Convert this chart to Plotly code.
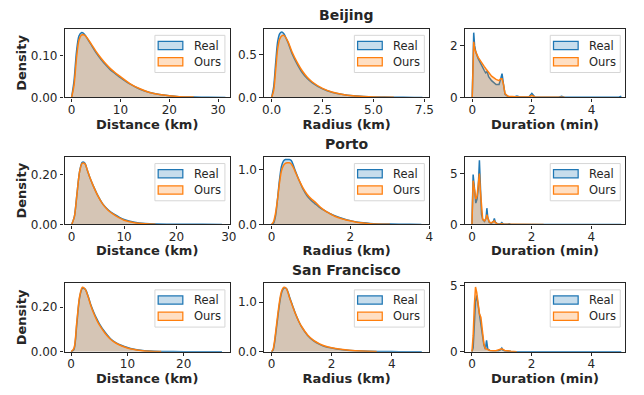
import plotly.graph_objects as go

# ---------------- data ----------------
cities = ["Beijing", "Porto", "San Francisco"]
x_titles = ["Distance (km)", "Radius (km)", "Duration (min)"]
series_names = ["Real", "Ours"]

# Beijing
bj_dist_x = [0, 0.5, 1, 1.5, 2, 2.5, 3, 4, 5, 6, 7, 8, 9, 10, 12, 14, 16, 18, 20, 22, 25, 28, 31.5]
bj_dist_real = [0, 0.04, 0.11, 0.148, 0.156, 0.154, 0.146, 0.127, 0.108, 0.092, 0.078, 0.066, 0.057, 0.048, 0.032, 0.020, 0.012, 0.007, 0.004, 0.002, 0.001, 0.0005, 0]
bj_dist_ours = [0, 0.03, 0.095, 0.138, 0.150, 0.151, 0.146, 0.129, 0.111, 0.095, 0.081, 0.069, 0.059, 0.050, 0.033, 0.021, 0.012, 0.007, 0.004, 0.002, 0.001]

bj_rad_x = [0, 0.1, 0.2, 0.3, 0.4, 0.5, 0.6, 0.8, 1.0, 1.25, 1.5, 1.75, 2.0, 2.5, 3.0, 3.5, 4.0, 4.5, 5, 6, 7, 7.4]
bj_rad_real = [0, 0.12, 0.40, 0.65, 0.74, 0.76, 0.74, 0.64, 0.51, 0.39, 0.29, 0.22, 0.17, 0.10, 0.058, 0.034, 0.02, 0.012, 0.007, 0.003, 0.001, 0]
bj_rad_ours = [0, 0.08, 0.32, 0.57, 0.68, 0.715, 0.72, 0.65, 0.53, 0.41, 0.31, 0.235, 0.18, 0.105, 0.06, 0.035, 0.02, 0.012, 0.007, 0.003]

bj_dur_x = [0.0, 0.03, 0.05, 0.08, 0.12, 0.2, 0.3, 0.4, 0.45, 0.5, 0.55, 0.65, 0.8, 0.9, 0.95, 1.0, 1.05, 1.1, 1.2, 1.4, 1.5, 1.6, 1.9, 2.0, 2.1, 2.4, 2.9, 3.0, 3.1, 4.0, 4.9, 5.0]
bj_dur_real = [0, 1.8, 2.5, 2.0, 1.75, 1.5, 1.25, 1.05, 0.95, 1.0, 0.8, 0.65, 0.5, 0.5, 0.7, 0.92, 0.5, 0.12, 0.04, 0.02, 0.06, 0.02, 0.02, 0.16, 0.02, 0.01, 0.01, 0.05, 0.005, 0.005, 0.005, 0.05]
bj_dur_ours = [0, 1.6, 2.15, 1.9, 1.75, 1.55, 1.35, 1.2, 1.12, 1.05, 0.95, 0.82, 0.7, 0.65, 0.72, 0.72, 0.5, 0.15, 0.05, 0.03, 0.03, 0.02, 0.02, 0.08, 0.02, 0.01, 0.005, 0.01, 0.005]

# Porto
po_dist_x = [0, 0.5, 1, 1.5, 2, 2.5, 3, 3.5, 4, 5, 6, 7, 8, 9, 10, 12, 14, 16, 20, 25, 28.7]
po_dist_real = [0, 0.03, 0.12, 0.21, 0.248, 0.245, 0.215, 0.185, 0.16, 0.115, 0.08, 0.058, 0.042, 0.03, 0.02, 0.009, 0.004, 0.002, 0.001, 0.0005, 0]
po_dist_ours = [0, 0.03, 0.12, 0.21, 0.244, 0.243, 0.216, 0.186, 0.16, 0.114, 0.079, 0.056, 0.040, 0.027, 0.017, 0.007, 0.003, 0.001]

po_rad_x = [0, 0.05, 0.1, 0.15, 0.2, 0.25, 0.3, 0.35, 0.4, 0.45, 0.5, 0.55, 0.6, 0.7, 0.8, 0.9, 1.0, 1.1, 1.2, 1.3, 1.4, 1.5, 1.6, 1.8, 2.0, 2.2, 2.5, 3.0, 3.5, 3.8]
po_rad_real = [0, 0.02, 0.15, 0.45, 0.8, 1.05, 1.15, 1.18, 1.18, 1.18, 1.16, 1.08, 0.98, 0.80, 0.64, 0.52, 0.44, 0.38, 0.32, 0.27, 0.23, 0.19, 0.16, 0.11, 0.07, 0.04, 0.02, 0.007, 0.003, 0]
po_rad_ours = [0, 0.05, 0.2, 0.45, 0.75, 0.97, 1.07, 1.11, 1.12, 1.12, 1.10, 1.04, 0.96, 0.80, 0.66, 0.55, 0.47, 0.41, 0.34, 0.28, 0.23, 0.19, 0.15, 0.10, 0.065, 0.035, 0.015, 0.005]

po_dur_x = [0, 0.02, 0.04, 0.07, 0.1, 0.13, 0.17, 0.21, 0.25, 0.28, 0.32, 0.36, 0.42, 0.47, 0.5, 0.53, 0.58, 0.65, 0.72, 0.75, 0.78, 0.85, 0.95, 1.0, 1.05, 1.2, 1.25, 1.3, 1.5, 2.0, 2.4, 3.0, 4.0, 5.0]
po_dur_real = [0, 3.5, 4.9, 4.0, 2.8, 2.1, 2.5, 3.5, 6.3, 3.2, 1.0, 0.5, 0.3, 0.6, 1.6, 0.7, 0.2, 0.12, 0.3, 0.6, 0.25, 0.06, 0.04, 0.18, 0.04, 0.02, 0.06, 0.01, 0.01, 0.005, 0.004, 0.003, 0.002, 0.002]
po_dur_ours = [0, 3.2, 4.3, 3.7, 3.0, 2.5, 2.8, 3.8, 5.0, 3.4, 1.3, 0.5, 0.35, 0.6, 0.95, 0.6, 0.25, 0.15, 0.25, 0.35, 0.2, 0.06, 0.03, 0.08, 0.03, 0.02, 0.02, 0.01, 0.01, 0.005, 0.002]

# San Francisco
sf_dist_x = [0, 0.5, 1, 1.5, 2, 2.5, 3, 3.5, 4, 4.5, 5, 6, 7, 8, 9, 10, 11, 12, 14, 16, 20, 25, 26.8]
sf_dist_real = [0, 0.01, 0.12, 0.24, 0.283, 0.280, 0.25, 0.21, 0.178, 0.15, 0.126, 0.088, 0.058, 0.040, 0.028, 0.019, 0.012, 0.008, 0.003, 0.0015, 0.0005, 0.0002, 0]
sf_dist_ours = [0, 0.015, 0.13, 0.245, 0.288, 0.280, 0.248, 0.207, 0.173, 0.145, 0.121, 0.084, 0.056, 0.038, 0.026, 0.017, 0.011, 0.007, 0.002, 0.001]

sf_rad_x = [0, 0.05, 0.1, 0.15, 0.2, 0.25, 0.3, 0.35, 0.4, 0.45, 0.5, 0.55, 0.6, 0.7, 0.8, 0.9, 1.0, 1.2, 1.4, 1.6, 1.8, 2.0, 2.3, 2.6, 3.0, 3.5, 4.0, 4.5, 5.0]
sf_rad_real = [0, 0.03, 0.18, 0.42, 0.66, 0.90, 1.10, 1.22, 1.28, 1.29, 1.27, 1.20, 1.10, 0.93, 0.76, 0.62, 0.50, 0.33, 0.22, 0.15, 0.10, 0.075, 0.045, 0.027, 0.014, 0.006, 0.003, 0.001, 0]
sf_rad_ours = [0, 0.05, 0.22, 0.47, 0.72, 0.95, 1.14, 1.25, 1.30, 1.30, 1.27, 1.19, 1.09, 0.92, 0.76, 0.62, 0.51, 0.34, 0.23, 0.16, 0.11, 0.08, 0.05, 0.03, 0.015, 0.007]

sf_dur_x = [0, 0.04, 0.08, 0.12, 0.16, 0.2, 0.25, 0.3, 0.35, 0.4, 0.45, 0.49, 0.53, 0.6, 0.7, 0.8, 0.9, 0.96, 1.0, 1.04, 1.1, 1.3, 1.5, 2.0, 3.0, 4.0, 5.0]
sf_dur_real = [0, 0.3, 2.0, 3.8, 4.26, 3.6, 2.6, 2.0, 1.2, 0.5, 0.2, 0.86, 0.2, 0.1, 0.08, 0.06, 0.08, 0.15, 0.27, 0.12, 0.05, 0.03, 0.01, 0.005, 0.003, 0.002, 0.002]
sf_dur_ours = [0, 1.2, 3.5, 4.9, 4.5, 3.6, 2.9, 2.6, 1.6, 0.6, 0.25, 0.2, 0.15, 0.1, 0.08, 0.08, 0.15, 0.2, 0.22, 0.18, 0.1, 0.04, 0.01]

# axis ranges and ticks
x_ranges = [[[-1.45, 32.4], [-0.37, 7.74], [-0.25, 5.13]],
            [[-1.37, 30.2], [-0.19, 4.0], [-0.24, 5.13]],
            [[-1.17, 28.2], [-0.25, 5.25], [-0.24, 5.13]]]
y_ranges = [[0.166, 0.80, 2.66],
            [0.27, 1.23, 6.65],
            [0.307, 1.386, 5.2]]
x_ticks = [[[0, 10, 20, 30], [0, 2.5, 5, 7.5], [0, 2, 4]],
           [[0, 10, 20, 30], [0, 2, 4], [0, 2, 4]],
           [[0, 10, 20], [0, 2, 4], [0, 2, 4]]]
x_ticktext = [[["0", "10", "20", "30"], ["0.0", "2.5", "5.0", "7.5"], ["0", "2", "4"]],
              [["0", "10", "20", "30"], ["0", "2", "4"], ["0", "2", "4"]],
              [["0", "10", "20"], ["0", "2", "4"], ["0", "2", "4"]]]
y_ticks = [[[0, 0.1], [0, 0.5], [0, 2]],
           [[0, 0.2], [0, 1.0], [0, 5]],
           [[0, 0.2], [0, 1.0], [0, 5]]]
y_ticktext = [[["0.00", "0.10"], ["0.0", "0.5"], ["0", "2"]],
              [["0.00", "0.20"], ["0.0", "1.0"], ["0", "5"]],
              [["0.00", "0.20"], ["0.0", "1.0"], ["0", "5"]]]

panels = [
    [(bj_dist_x, bj_dist_real, bj_dist_ours), (bj_rad_x, bj_rad_real, bj_rad_ours), (bj_dur_x, bj_dur_real, bj_dur_ours)],
    [(po_dist_x, po_dist_real, po_dist_ours), (po_rad_x, po_rad_real, po_rad_ours), (po_dur_x, po_dur_real, po_dur_ours)],
    [(sf_dist_x, sf_dist_real, sf_dist_ours), (sf_rad_x, sf_rad_real, sf_rad_ours), (sf_dur_x, sf_dur_real, sf_dur_ours)],
]

# ---------------- layout geometry (window pixels) ----------------
OFF = 8                      # default page body margin
W, H = 644 - OFF, 395 - OFF  # figure size so that it fills the window
col_px = [(63.3, 231.0), (265.7, 433.3), (469.3, 632.0)]
row_px = [(25.0, 96.0), (157.0, 226.7), (287.0, 357.7)]
fxp = lambda px: (px - OFF) / W
fyp = lambda py: 1 - (py - OFF) / H

FONT = "DejaVu Sans"
TXT = "#262626"
BLUE, ORANGE = "#1f77b4", "#ff7f0e"
BLUE_FILL, ORANGE_FILL = "rgba(31,119,180,0.25)", "rgba(255,127,14,0.25)"
BLUE_PATCH, ORANGE_PATCH = "rgb(199,221,236)", "rgb(255,223,195)"

fig = go.Figure()
shapes, annotations = [], []

for r in range(3):
    for c in range(3):
        k = r * 3 + c + 1
        xa = "x" if k == 1 else f"x{k}"
        ya = "y" if k == 1 else f"y{k}"
        xs, real, ours = panels[r][c]
        smooth = c < 2
        for ys, col, fill in ((real, BLUE, BLUE_FILL), (ours, ORANGE, ORANGE_FILL)):
            fig.add_trace(go.Scatter(
                x=xs[:len(ys)], y=ys, xaxis=xa, yaxis=ya, mode="lines",
                line=dict(color=col, width=1.5, shape="spline" if smooth else "linear", smoothing=0.8),
                fill="tozeroy", fillcolor=fill, showlegend=False, hoverinfo="skip"))

        x0p, x1p = col_px[c]
        y0p, y1p = row_px[r]
        axis_common = dict(showline=True, mirror=True, linecolor=TXT, linewidth=1.25,
                           ticks="outside", ticklen=3.5, tickwidth=1.25, tickcolor=TXT,
                           showgrid=False, zeroline=False,
                           tickfont=dict(family=FONT, size=12, color=TXT))
        fig.layout[("xaxis" if k == 1 else f"xaxis{k}")] = dict(
            axis_common, domain=[fxp(x0p), fxp(x1p)], anchor=ya, range=x_ranges[r][c],
            tickvals=x_ticks[r][c], ticktext=x_ticktext[r][c], ticklabelstandoff=-3,
            title=dict(text=x_titles[c], font=dict(family=FONT, size=13, color=TXT, weight="bold"), standoff=3))
        fig.layout[("yaxis" if k == 1 else f"yaxis{k}")] = dict(
            axis_common, domain=[fyp(y1p), fyp(y0p)], anchor=xa, range=[0, y_ranges[r][c]],
            tickvals=y_ticks[r][c], ticktext=y_ticktext[r][c],
            title=dict(text="Density" if c == 0 else "", font=dict(family=FONT, size=13, color=TXT, weight="bold"), standoff=1))

        # manual legend (matplotlib style) placed in axis-domain coordinates
        aw, ah = x1p - x0p, y1p - y0p
        fx = lambda px: 1 + px / aw          # px offset from right edge (negative)
        fy = lambda py: 1 - py / ah          # px offset from top edge
        xd, yd = f"{xa} domain", f"{ya} domain"
        bl, br = -76, -5
        shapes.append(dict(type="rect", xref=xd, yref=yd, x0=fx(bl), x1=fx(br), y0=fy(45.3), y1=fy(7),
                           line=dict(color="#d6d6d6", width=1), fillcolor="rgba(255,255,255,0.85)", layer="above"))
        for i, (name, edge, face, top) in enumerate(((series_names[0], BLUE, BLUE_PATCH, 13.3),
                                                     (series_names[1], ORANGE, ORANGE_PATCH, 30.0))):
            shapes.append(dict(type="rect", xref=xd, yref=yd, x0=fx(bl + 3.3), x1=fx(bl + 28.3),
                               y0=fy(top + 8.4), y1=fy(top), line=dict(color=edge, width=1.25),
                               fillcolor=face, layer="above"))
            annotations.append(dict(text=name, xref=xd, yref=yd, x=fx(bl + 37.5), y=fy(top + 4.2),
                                    xanchor="left", yanchor="middle", showarrow=False,
                                    font=dict(family=FONT, size=11.5, color=TXT)))

# row titles
title_y = [11.5, 143.5, 273.5]
for r in range(3):
    annotations.append(dict(text=f"<b>{cities[r]}</b>", xref="paper", yref="paper",
                            x=fxp((col_px[1][0] + col_px[1][1]) / 2), y=fyp(title_y[r]),
                            xanchor="center", yanchor="middle", showarrow=False,
                            font=dict(family=FONT, size=14, color=TXT)))

fig.update_layout(width=W, height=H, margin=dict(l=0, r=0, t=0, b=0),
                  paper_bgcolor="white", plot_bgcolor="white",
                  shapes=shapes, annotations=annotations, showlegend=False,
                  font=dict(family=FONT, color=TXT))
fig.write_html("out.html")
